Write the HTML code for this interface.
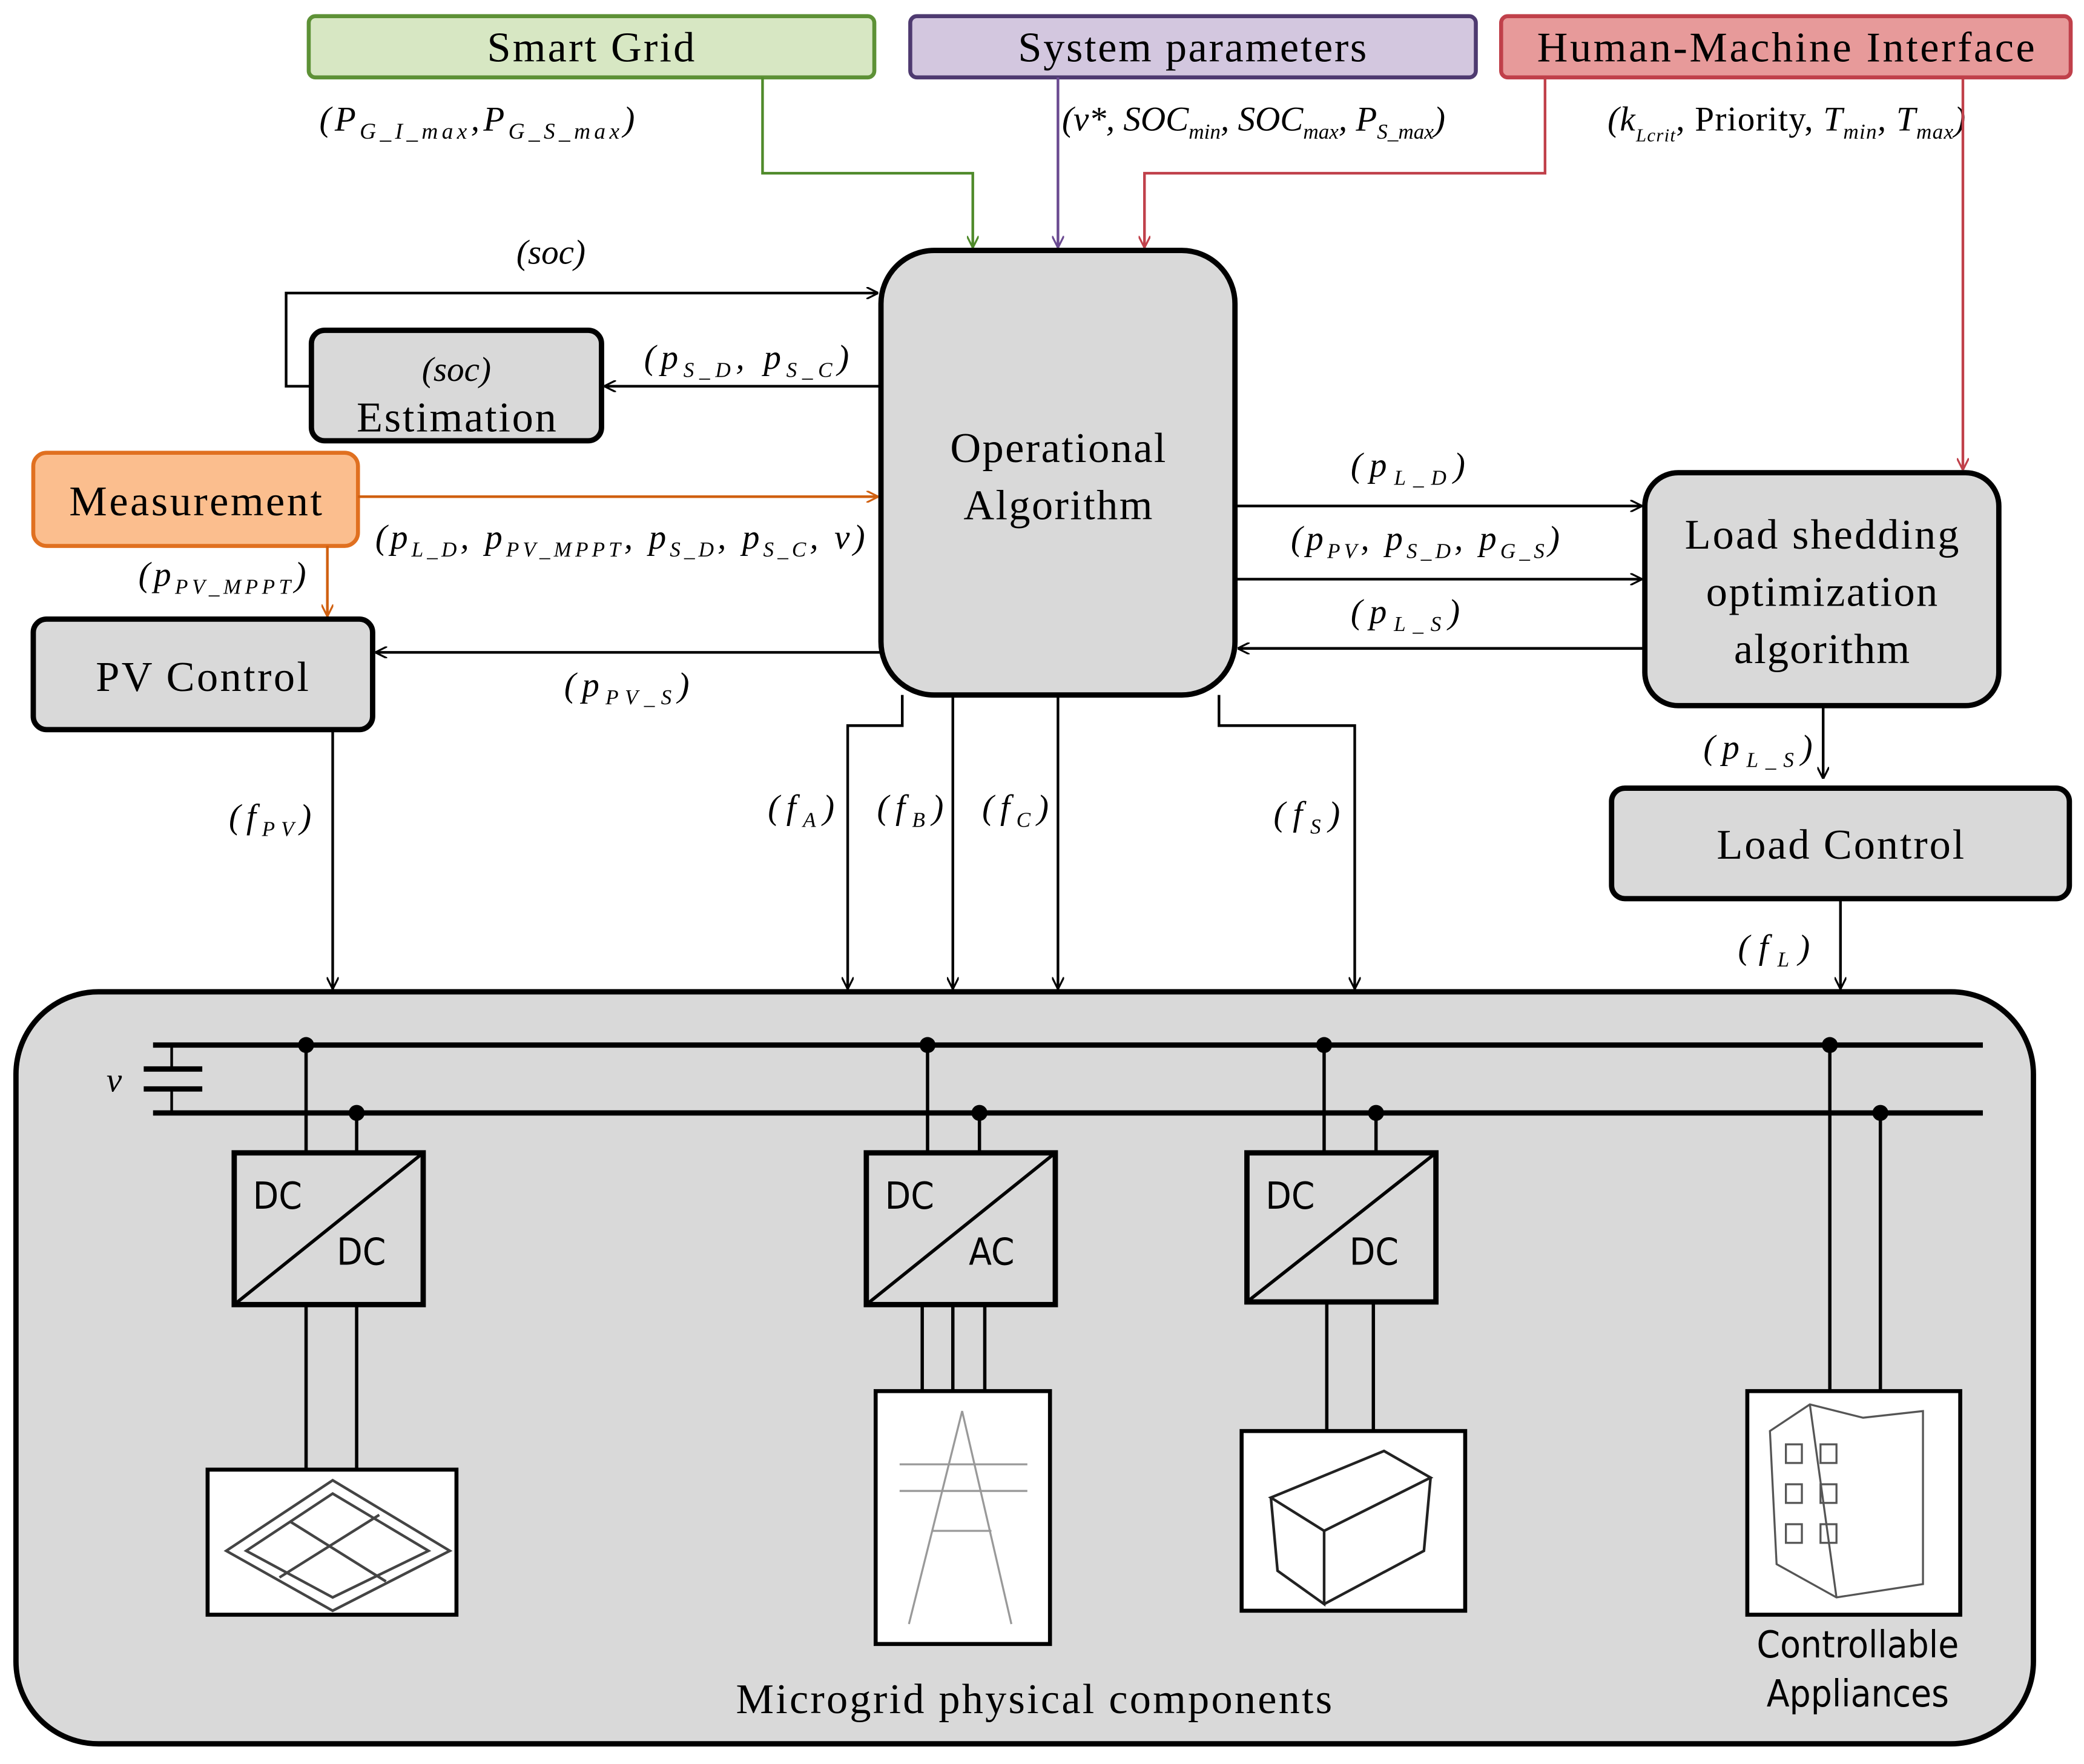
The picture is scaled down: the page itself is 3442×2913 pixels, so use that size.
<!DOCTYPE html>
<html><head><meta charset="utf-8"><style>
html,body{margin:0;padding:0;background:#fff}
svg{display:block}
.t{font-family:"Liberation Serif",serif;font-size:32px;fill:#000}
.m{font-family:"Liberation Serif",serif;font-style:italic;font-size:26px;fill:#000}
.s{font-family:"DejaVu Sans Condensed","DejaVu Sans",sans-serif;font-size:28px;fill:#000}
</style></head><body>
<svg width="3442" height="2913" viewBox="0 0 1566 1325" xmlns="http://www.w3.org/2000/svg">
<defs>
<marker id="a" viewBox="0 0 10 10" refX="10" refY="5" markerWidth="9" markerHeight="9" markerUnits="userSpaceOnUse" orient="auto"><path d="M0,0 L10,5 L0,10" fill="none" stroke="#000" stroke-width="1.6"/></marker>
<marker id="ao" viewBox="0 0 10 10" refX="10" refY="5" markerWidth="9" markerHeight="9" markerUnits="userSpaceOnUse" orient="auto"><path d="M0,0 L10,5 L0,10" fill="none" stroke="#d06010" stroke-width="1.6"/></marker>
<marker id="ag" viewBox="0 0 10 10" refX="10" refY="5" markerWidth="9" markerHeight="9" markerUnits="userSpaceOnUse" orient="auto"><path d="M0,0 L10,5 L0,10" fill="none" stroke="#4f8a2a" stroke-width="1.6"/></marker>
<marker id="ap" viewBox="0 0 10 10" refX="10" refY="5" markerWidth="9" markerHeight="9" markerUnits="userSpaceOnUse" orient="auto"><path d="M0,0 L10,5 L0,10" fill="none" stroke="#6a4a90" stroke-width="1.6"/></marker>
<marker id="ar" viewBox="0 0 10 10" refX="10" refY="5" markerWidth="9" markerHeight="9" markerUnits="userSpaceOnUse" orient="auto"><path d="M0,0 L10,5 L0,10" fill="none" stroke="#c0404a" stroke-width="1.6"/></marker>
</defs>
<rect width="1566" height="1325" fill="#fff"/>

<rect x="232" y="12" width="425" height="46" rx="5" fill="#d7e7c3" stroke="#5d9136" stroke-width="3"/>
<text class="t" x="444" y="46" text-anchor="middle" textLength="156" lengthAdjust="spacing">Smart Grid</text>
<rect x="684" y="12" width="425" height="46" rx="5" fill="#d3c7df" stroke="#4e3a70" stroke-width="3"/>
<text class="t" x="896" y="46" text-anchor="middle" textLength="262" lengthAdjust="spacing">System parameters</text>
<rect x="1128" y="12" width="428" height="46" rx="5" fill="#e79a9a" stroke="#c0404a" stroke-width="3"/>
<text class="t" x="1342" y="46" text-anchor="middle" textLength="374" lengthAdjust="spacing">Human-Machine Interface</text>

<text class="m" x="240" y="98" textLength="237" lengthAdjust="spacing">(P<tspan font-size="17" dy="6">G_I_max</tspan><tspan dy="-6">,P</tspan><tspan font-size="17" dy="6">G_S_max</tspan><tspan dy="-6">)</tspan></text>
<text class="m" x="798" y="98" font-size="24" textLength="288" lengthAdjust="spacing">(v*, SOC<tspan font-size="16" dy="6">min</tspan><tspan dy="-6">, SOC</tspan><tspan font-size="16" dy="6">max</tspan><tspan dy="-6">, P</tspan><tspan font-size="16" dy="6">S_max</tspan><tspan dy="-6">)</tspan></text>
<text class="m" x="1208" y="98" font-size="26" textLength="269" lengthAdjust="spacing">(k<tspan font-size="14" dy="8">Lcrit</tspan><tspan dy="-8" font-style="normal">, Priority, </tspan><tspan>T</tspan><tspan font-size="16" dy="6">min</tspan><tspan dy="-6">, T</tspan><tspan font-size="16" dy="6">max</tspan><tspan dy="-6">)</tspan></text>

<polyline points="573,58 573,130 731,130 731,186" fill="none" stroke="#4f8a2a" stroke-width="2" marker-end="url(#ag)"/>
<line x1="795" y1="58" x2="795" y2="186" stroke="#6a4a90" stroke-width="2" marker-end="url(#ap)"/>
<polyline points="1161,58 1161,130 860,130 860,186" fill="none" stroke="#c0404a" stroke-width="2" marker-end="url(#ar)"/>
<line x1="1475" y1="58" x2="1475" y2="353" stroke="#c0404a" stroke-width="2" marker-end="url(#ar)"/>

<rect x="662" y="188" width="266" height="334" rx="40" fill="#d9d9d9" stroke="#000" stroke-width="4"/>
<text class="t" x="795" y="347" text-anchor="middle" textLength="162" lengthAdjust="spacing">Operational</text>
<text class="t" x="795" y="390" text-anchor="middle" textLength="142" lengthAdjust="spacing">Algorithm</text>

<rect x="234" y="248" width="218" height="83" rx="10" fill="#d9d9d9" stroke="#000" stroke-width="4"/>
<text class="m" x="343" y="286" text-anchor="middle">(soc)</text>
<text class="t" x="343" y="324" text-anchor="middle" textLength="150" lengthAdjust="spacing">Estimation</text>
<polyline points="234,290 215,290 215,220 660,220" fill="none" stroke="#000" stroke-width="2" marker-end="url(#a)"/>
<text class="m" x="414" y="198" text-anchor="middle">(soc)</text>
<line x1="662" y1="290" x2="454" y2="290" stroke="#000" stroke-width="2" marker-end="url(#a)"/>
<text class="m" x="484" y="277" textLength="154" lengthAdjust="spacing">(p<tspan font-size="16" dy="6">S_D</tspan><tspan dy="-6">, p</tspan><tspan font-size="16" dy="6">S_C</tspan><tspan dy="-6">)</tspan></text>

<rect x="25" y="340" width="244" height="70" rx="10" fill="#fbbe8e" stroke="#e07020" stroke-width="3"/>
<text class="t" x="147" y="387" text-anchor="middle" textLength="190" lengthAdjust="spacing">Measurement</text>
<line x1="269" y1="373" x2="660" y2="373" stroke="#d06010" stroke-width="2" marker-end="url(#ao)"/>
<line x1="246" y1="410" x2="246" y2="463" stroke="#d06010" stroke-width="2" marker-end="url(#ao)"/>
<text class="m" x="282" y="412" textLength="368" lengthAdjust="spacing">(p<tspan font-size="16" dy="6">L_D</tspan><tspan dy="-6">, p</tspan><tspan font-size="16" dy="6">PV_MPPT</tspan><tspan dy="-6">, p</tspan><tspan font-size="16" dy="6">S_D</tspan><tspan dy="-6">, p</tspan><tspan font-size="16" dy="6">S_C</tspan><tspan dy="-6">, v)</tspan></text>
<text class="m" x="104" y="440" textLength="126" lengthAdjust="spacing">(p<tspan font-size="16" dy="6">PV_MPPT</tspan><tspan dy="-6">)</tspan></text>

<rect x="25" y="465" width="255" height="83" rx="10" fill="#d9d9d9" stroke="#000" stroke-width="4"/>
<text class="t" x="152" y="519" text-anchor="middle" textLength="160" lengthAdjust="spacing">PV Control</text>
<line x1="662" y1="490" x2="282" y2="490" stroke="#000" stroke-width="2" marker-end="url(#a)"/>
<text class="m" x="424" y="523" textLength="94" lengthAdjust="spacing">(p<tspan font-size="16" dy="6">PV_S</tspan><tspan dy="-6">)</tspan></text>
<line x1="250" y1="548" x2="250" y2="743" stroke="#000" stroke-width="2" marker-end="url(#a)"/>
<text class="m" x="172" y="622" textLength="62" lengthAdjust="spacing">(f<tspan font-size="16" dy="6">PV</tspan><tspan dy="-6">)</tspan></text>

<rect x="1236" y="355" width="266" height="175" rx="25" fill="#d9d9d9" stroke="#000" stroke-width="4"/>
<text class="t" x="1369" y="412" text-anchor="middle" textLength="206" lengthAdjust="spacing">Load shedding</text>
<text class="t" x="1369" y="455" text-anchor="middle" textLength="174" lengthAdjust="spacing">optimization</text>
<text class="t" x="1369" y="498" text-anchor="middle" textLength="132" lengthAdjust="spacing">algorithm</text>
<line x1="928" y1="380" x2="1234" y2="380" stroke="#000" stroke-width="2" marker-end="url(#a)"/>
<line x1="928" y1="435" x2="1234" y2="435" stroke="#000" stroke-width="2" marker-end="url(#a)"/>
<line x1="1236" y1="487" x2="930" y2="487" stroke="#000" stroke-width="2" marker-end="url(#a)"/>
<text class="m" x="1015" y="358" textLength="86" lengthAdjust="spacing">(p<tspan font-size="16" dy="6">L_D</tspan><tspan dy="-6">)</tspan></text>
<text class="m" x="970" y="413" textLength="202" lengthAdjust="spacing">(p<tspan font-size="16" dy="6">PV</tspan><tspan dy="-6">, p</tspan><tspan font-size="16" dy="6">S_D</tspan><tspan dy="-6">, p</tspan><tspan font-size="16" dy="6">G_S</tspan><tspan dy="-6">)</tspan></text>
<text class="m" x="1015" y="468" textLength="82" lengthAdjust="spacing">(p<tspan font-size="16" dy="6">L_S</tspan><tspan dy="-6">)</tspan></text>
<line x1="1370" y1="530" x2="1370" y2="585" stroke="#000" stroke-width="2" marker-end="url(#a)"/>
<text class="m" x="1280" y="570" textLength="82" lengthAdjust="spacing">(p<tspan font-size="16" dy="6">L_S</tspan><tspan dy="-6">)</tspan></text>

<rect x="1211" y="592" width="344" height="83" rx="10" fill="#d9d9d9" stroke="#000" stroke-width="4"/>
<text class="t" x="1383" y="645" text-anchor="middle" textLength="186" lengthAdjust="spacing">Load Control</text>
<line x1="1383" y1="675" x2="1383" y2="743" stroke="#000" stroke-width="2" marker-end="url(#a)"/>
<text class="m" x="1306" y="720" textLength="54" lengthAdjust="spacing">(f<tspan font-size="16" dy="6">L</tspan><tspan dy="-6">)</tspan></text>

<polyline points="678,522 678,545 637,545 637,743" fill="none" stroke="#000" stroke-width="2" marker-end="url(#a)"/>
<line x1="716" y1="522" x2="716" y2="743" stroke="#000" stroke-width="2" marker-end="url(#a)"/>
<line x1="795" y1="522" x2="795" y2="743" stroke="#000" stroke-width="2" marker-end="url(#a)"/>
<polyline points="916,522 916,545 1018,545 1018,743" fill="none" stroke="#000" stroke-width="2" marker-end="url(#a)"/>
<text class="m" x="577" y="615" textLength="50" lengthAdjust="spacing">(f<tspan font-size="16" dy="6">A</tspan><tspan dy="-6">)</tspan></text>
<text class="m" x="659" y="615" textLength="50" lengthAdjust="spacing">(f<tspan font-size="16" dy="6">B</tspan><tspan dy="-6">)</tspan></text>
<text class="m" x="738" y="615" textLength="50" lengthAdjust="spacing">(f<tspan font-size="16" dy="6">C</tspan><tspan dy="-6">)</tspan></text>
<text class="m" x="957" y="620" textLength="50" lengthAdjust="spacing">(f<tspan font-size="16" dy="6">S</tspan><tspan dy="-6">)</tspan></text>

<rect x="12" y="745" width="1516" height="565" rx="62" fill="#d9d9d9" stroke="#000" stroke-width="4"/>
<line x1="115" y1="785" x2="1490" y2="785" stroke="#000" stroke-width="4"/>
<line x1="115" y1="836" x2="1490" y2="836" stroke="#000" stroke-width="4"/>
<line x1="129" y1="785" x2="129" y2="803" stroke="#000" stroke-width="2"/>
<line x1="129" y1="818" x2="129" y2="836" stroke="#000" stroke-width="2"/>
<line x1="108" y1="803" x2="152" y2="803" stroke="#000" stroke-width="4"/>
<line x1="108" y1="818" x2="152" y2="818" stroke="#000" stroke-width="4"/>
<text class="m" x="80" y="820" font-size="30">v</text>

<g stroke="#000" stroke-width="2.5" fill="none">
<line x1="230" y1="785" x2="230" y2="866"/><line x1="268" y1="836" x2="268" y2="866"/>
<line x1="230" y1="980" x2="230" y2="1104"/><line x1="268" y1="980" x2="268" y2="1104"/>
<line x1="697" y1="785" x2="697" y2="866"/><line x1="736" y1="836" x2="736" y2="866"/>
<line x1="693" y1="980" x2="693" y2="1045"/><line x1="716" y1="980" x2="716" y2="1045"/><line x1="740" y1="980" x2="740" y2="1045"/>
<line x1="995" y1="785" x2="995" y2="866"/><line x1="1034" y1="836" x2="1034" y2="866"/>
<line x1="997" y1="978" x2="997" y2="1075"/><line x1="1032" y1="978" x2="1032" y2="1075"/>
<line x1="1375" y1="785" x2="1375" y2="1045"/><line x1="1413" y1="836" x2="1413" y2="1045"/>
</g>
<g fill="#000">
<circle cx="230" cy="785" r="6"/><circle cx="268" cy="836" r="6"/>
<circle cx="697" cy="785" r="6"/><circle cx="736" cy="836" r="6"/>
<circle cx="995" cy="785" r="6"/><circle cx="1034" cy="836" r="6"/>
<circle cx="1375" cy="785" r="6"/><circle cx="1413" cy="836" r="6"/>
</g>

<g stroke="#000" stroke-width="4" fill="#d9d9d9">
<rect x="176" y="866" width="142" height="114"/>
<rect x="651" y="866" width="142" height="114"/>
<rect x="937" y="866" width="142" height="112"/>
</g>
<g stroke="#000" stroke-width="2.5">
<line x1="176" y1="980" x2="318" y2="866"/>
<line x1="651" y1="980" x2="793" y2="866"/>
<line x1="937" y1="978" x2="1079" y2="866"/>
</g>
<text class="s" x="190" y="908">DC</text><text class="s" x="253" y="950">DC</text>
<text class="s" x="665" y="908">DC</text><text class="s" x="728" y="950">AC</text>
<text class="s" x="951" y="908">DC</text><text class="s" x="1014" y="950">DC</text>

<rect x="156" y="1104" width="187" height="109" fill="#fff" stroke="#000" stroke-width="3"/>
<g fill="none" stroke="#444" stroke-width="2">
<path d="M170,1165 L250,1112 L338,1165 L250,1210 Z"/>
<path d="M185,1165 L250,1122 L322,1165 L250,1200 Z"/>
<line x1="218" y1="1143" x2="290" y2="1188"/><line x1="210" y1="1185" x2="285" y2="1138"/>
</g>
<rect x="658" y="1045" width="131" height="190" fill="#fff" stroke="#000" stroke-width="3"/>
<g fill="none" stroke="#999" stroke-width="1.5">
<path d="M683,1220 L723,1060 L760,1220"/><path d="M700,1150 L745,1150"/>
<line x1="676" y1="1100" x2="772" y2="1100"/><line x1="676" y1="1120" x2="772" y2="1120"/>
</g>
<rect x="933" y="1075" width="168" height="135" fill="#fff" stroke="#000" stroke-width="3"/>
<g fill="none" stroke="#222" stroke-width="2">
<path d="M955,1125 L1040,1090 L1075,1110 L995,1150 Z"/>
<path d="M955,1125 L960,1180 L995,1205 L995,1150"/><path d="M995,1205 L1070,1165 L1075,1110"/>
</g>
<rect x="1313" y="1045" width="160" height="168" fill="#fff" stroke="#000" stroke-width="3"/>
<g fill="none" stroke="#555" stroke-width="1.5">
<path d="M1330,1075 L1360,1055 L1400,1065 L1445,1060 L1445,1190 L1380,1200 L1335,1175 Z"/>
<line x1="1360" y1="1055" x2="1380" y2="1200"/>
<rect x="1342" y="1085" width="12" height="14"/><rect x="1368" y="1085" width="12" height="14"/>
<rect x="1342" y="1115" width="12" height="14"/><rect x="1368" y="1115" width="12" height="14"/>
<rect x="1342" y="1145" width="12" height="14"/><rect x="1368" y="1145" width="12" height="14"/>
</g>

<text class="s" x="1396" y="1245" text-anchor="middle" font-size="26">Controllable</text>
<text class="s" x="1396" y="1282" text-anchor="middle" font-size="26">Appliances</text>
<text class="t" x="777" y="1287" text-anchor="middle" font-size="32" textLength="448" lengthAdjust="spacing">Microgrid physical components</text>
</svg>
</body></html>
